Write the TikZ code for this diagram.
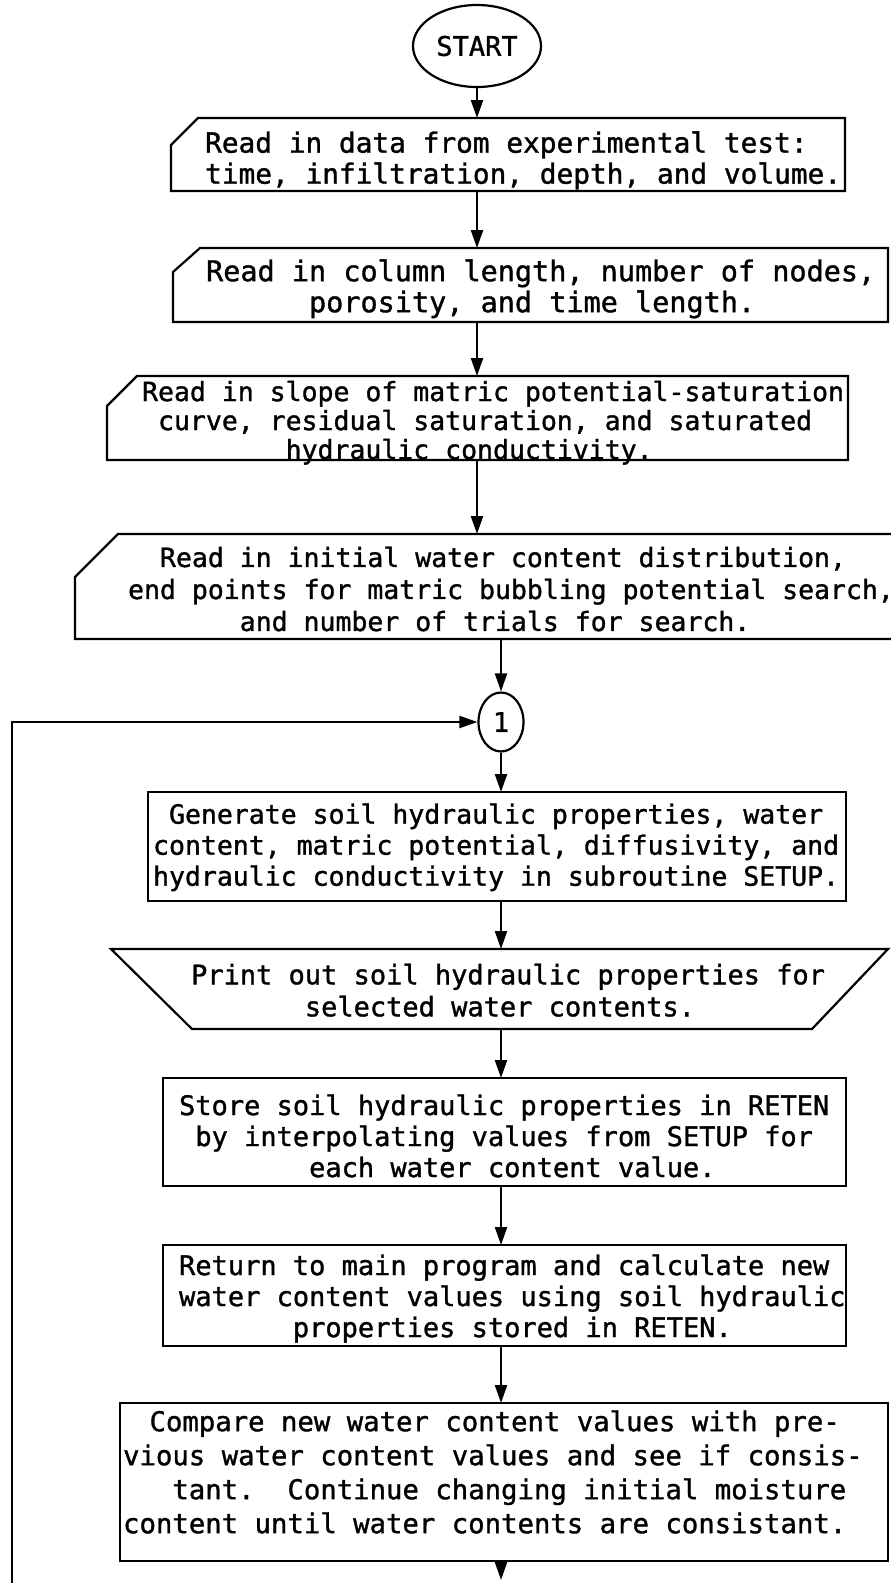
\documentclass[tikz,border=0pt]{standalone}
\usepackage{fontspec}
\newfontfamily\tw[FakeBold=1.2]{DejaVu Sans Mono}
\usetikzlibrary{arrows.meta,calc,shapes.geometric}
\begin{document}
\begin{tikzpicture}[x=1pt,y=-1pt,line width=2.2pt,
  frame/.style={inner sep=0pt,outer sep=0pt,rectangle},
  txt/.style 2 args={font=\tw\fontsize{#1}{#2}\selectfont,align=left,inner sep=0pt,anchor=north west,execute at begin node=\strut},
  arr/.style={-{Triangle[length=18pt,width=12pt]}}]
\useasboundingbox (0,0) rectangle (891,1583);
\clip (0,0) rectangle (891,1583);
% START and connector circle
\node[draw,ellipse,minimum width=128pt,minimum height=82pt,inner sep=0pt,font=\tw\fontsize{27}{31}\selectfont] (start) at (477,46) {START};
\node[draw,ellipse,minimum width=45pt,minimum height=59pt,inner sep=0pt,font=\tw\fontsize{27}{31}\selectfont] (c1) at (501,722) {1};
% frames (x from left, y from top)
\node[frame,minimum width=674pt,minimum height=73pt] (b1) at (508,154.5) {};
\node[frame,minimum width=715pt,minimum height=74pt] (b2) at (530.5,285) {};
\node[frame,minimum width=741pt,minimum height=84pt] (b3) at (477.5,418) {};
\node[frame,minimum width=830pt,minimum height=105pt] (b4) at (490,586.5) {};
\node[frame,draw,minimum width=698pt,minimum height=109pt] (b5) at (497,846.5) {};
\node[frame,minimum width=777pt,minimum height=80pt] (pr) at (499.5,989) {};
\node[frame,draw,minimum width=683pt,minimum height=108pt] (b6) at (504.5,1132) {};
\node[frame,draw,minimum width=683pt,minimum height=101pt] (b7) at (504.5,1295.5) {};
\node[frame,draw,minimum width=768pt,minimum height=158pt] (b8) at (504,1482) {};
% card and print outlines
\draw ([yshift=-27pt]b1.north west) -- ([xshift=27pt]b1.north west) -- (b1.north east) -- (b1.south east) -- (b1.south west) -- cycle;
\draw ([yshift=-24pt]b2.north west) -- ([xshift=27pt]b2.north west) -- (b2.north east) -- (b2.south east) -- (b2.south west) -- cycle;
\draw ([yshift=-30pt]b3.north west) -- ([xshift=30pt]b3.north west) -- (b3.north east) -- (b3.south east) -- (b3.south west) -- cycle;
\draw ([yshift=-43pt]b4.north west) -- ([xshift=43pt]b4.north west) -- (b4.north east) -- (b4.south east) -- (b4.south west) -- cycle;
\draw (pr.north west) -- (pr.north east) -- ([xshift=-76pt]pr.south east) -- ([xshift=81pt]pr.south west) -- cycle;
% texts (first baseline = y + 0.7 * line spacing)
\node[txt={27.8}{31}] (t1) at (204,130.3) {Read in data from experimental test:\\time, infiltration, depth, and volume.};
\node[txt={28.5}{31}] (t2) at (205,258.3) {Read in column length, number of nodes,\\~~~~~~porosity, and time length.};
\node[txt={26.5}{29}] (t3) at (141,379.7) {Read in slope of matric potential-saturation\\~curve, residual saturation, and saturated\\~~~~~~~~~hydraulic conductivity.};
\node[txt={26.5}{32}] (t4) at (127,545.6) {~~Read in initial water content distribution,\\end points for matric bubbling potential search,\\~~~~~~~and number of trials for search.};
\node[txt={26.5}{31}] (t5) at (152,802.3) {~Generate soil hydraulic properties, water\\content, matric potential, diffusivity, and\\hydraulic conductivity in subroutine SETUP.};
\node[txt={27}{32}] (t6) at (190,962.6) {Print out soil hydraulic properties for\\~~~~~~~selected water contents.};
\node[txt={27}{31}] (t7) at (178,1093.3) {Store soil hydraulic properties in RETEN\\~by interpolating values from SETUP for\\~~~~~~~~each water content value.};
\node[txt={27}{31}] (t8) at (178,1253.3) {Return to main program and calculate new\\water content values using soil hydraulic\\~~~~~~~properties stored in RETEN.};
\node[txt={27.3}{34}] (t9) at (122,1409.2) {~\hspace{10pt}Compare new water content values with pre-\\vious water content values and see if consis-\\~~~tant.~~Continue changing initial moisture\\content until water contents are consistant.};
% connectors
\coordinate (loopstart) at (12,1583);
\coordinate (endpt) at (501,1580);
\draw[arr] (start.south) -- (start.south |- b1.north);
\draw[arr] (start |- b1.south) -- (start |- b2.north);
\draw[arr] (start |- b2.south) -- (start |- b3.north);
\draw[arr] (start |- b3.south) -- (start |- b4.north);
\draw[arr] (c1 |- b4.south) -- (c1.north);
\draw[arr] (c1.south) -- (c1 |- b5.north);
\draw[arr] (c1 |- b5.south) -- (c1 |- pr.north);
\draw[arr] (c1 |- pr.south) -- (c1 |- b6.north);
\draw[arr] (c1 |- b6.south) -- (c1 |- b7.north);
\draw[arr] (c1 |- b7.south) -- (c1 |- b8.north);
\draw[arr] (c1 |- b8.south) -- (endpt);
\draw[arr] (loopstart) |- (c1.west);
\end{tikzpicture}
\end{document}
